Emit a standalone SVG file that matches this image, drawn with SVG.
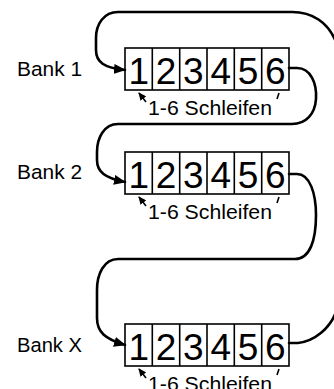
<svg xmlns="http://www.w3.org/2000/svg" width="334" height="389" viewBox="0 0 334 389">
<style>
.cell{fill:#fff;stroke:#000;stroke-width:1.6}
.dig{font-family:"Liberation Sans",Arial,sans-serif;font-size:37px;text-anchor:middle;fill:#000}
.lbl{font-family:"Liberation Sans",Arial,sans-serif;font-size:20.5px;fill:#000}
.con{fill:none;stroke:#000;stroke-width:2.6;stroke-linecap:round}
.thin{fill:none;stroke:#000;stroke-width:1.6}
</style>
<defs>
<marker id="ah" markerWidth="12" markerHeight="10" refX="11" refY="5" orient="auto" markerUnits="userSpaceOnUse">
<path d="M0,0 L12,5 L0,10 Z" fill="#000"/>
</marker>
<marker id="sh" markerWidth="8" markerHeight="7" refX="7" refY="3.5" orient="auto" markerUnits="userSpaceOnUse">
<path d="M0,0 L8,3.5 L0,7 Z" fill="#000"/>
</marker>
<g id="cells">
<rect class="cell" x="0" y="0" width="164" height="42"/>
<line class="thin" x1="27.3" y1="0" x2="27.3" y2="42"/>
<line class="thin" x1="54.7" y1="0" x2="54.7" y2="42"/>
<line class="thin" x1="82" y1="0" x2="82" y2="42"/>
<line class="thin" x1="109.3" y1="0" x2="109.3" y2="42"/>
<line class="thin" x1="136.7" y1="0" x2="136.7" y2="42"/>
<text class="dig" x="13.7" y="36">1</text>
<text class="dig" x="41" y="36">2</text>
<text class="dig" x="68.3" y="36">3</text>
<text class="dig" x="95.7" y="36">4</text>
<text class="dig" x="123" y="36">5</text>
<text class="dig" x="150.3" y="36">6</text>
<line class="thin" x1="154" y1="45" x2="152" y2="51"/>
<path class="thin" d="M21,54 L14,45" marker-end="url(#sh)"/>
<text class="lbl" x="23" y="67" textLength="124" lengthAdjust="spacingAndGlyphs">1-6 Schleifen</text>
</g>
</defs>
<g id="bank1">
<text class="lbl" x="17" y="76" textLength="65" lengthAdjust="spacingAndGlyphs">Bank 1</text>
<use href="#cells" x="125" y="48"/>
</g>
<g id="bank2">
<text class="lbl" x="17" y="179" textLength="65" lengthAdjust="spacingAndGlyphs">Bank 2</text>
<use href="#cells" x="125" y="152"/>
</g>
<g id="bankX">
<text class="lbl" x="17" y="352" textLength="65" lengthAdjust="spacingAndGlyphs">Bank X</text>
<use href="#cells" x="125" y="324"/>
</g>
<g id="connectors">
<path class="con" d="M336,42 C328,22 312,12 292,12 L118,12 C104,12 96,24 96,38 L96,50 C96,62 104,68 125,70" marker-end="url(#ah)"/>
<path class="con" d="M289,68 L297,68 C311,68 317,84 316,99 C315,114 306,124 292,124 L118,124 C104,124 97,138 97,152 L97,160 C97,172 105,178 125,182" marker-end="url(#ah)"/>
<path class="con" d="M289,174 L297,174 C310,174 316,194 316,215 C316,240 310,259 295,259 L118,259 C104,259 97,274 97,290 L97,318 C97,332 105,339 125,345" marker-end="url(#ah)"/>
<path class="con" d="M289,343 L298,343 C315,341 330,328 336,312"/>
</g>
</svg>
